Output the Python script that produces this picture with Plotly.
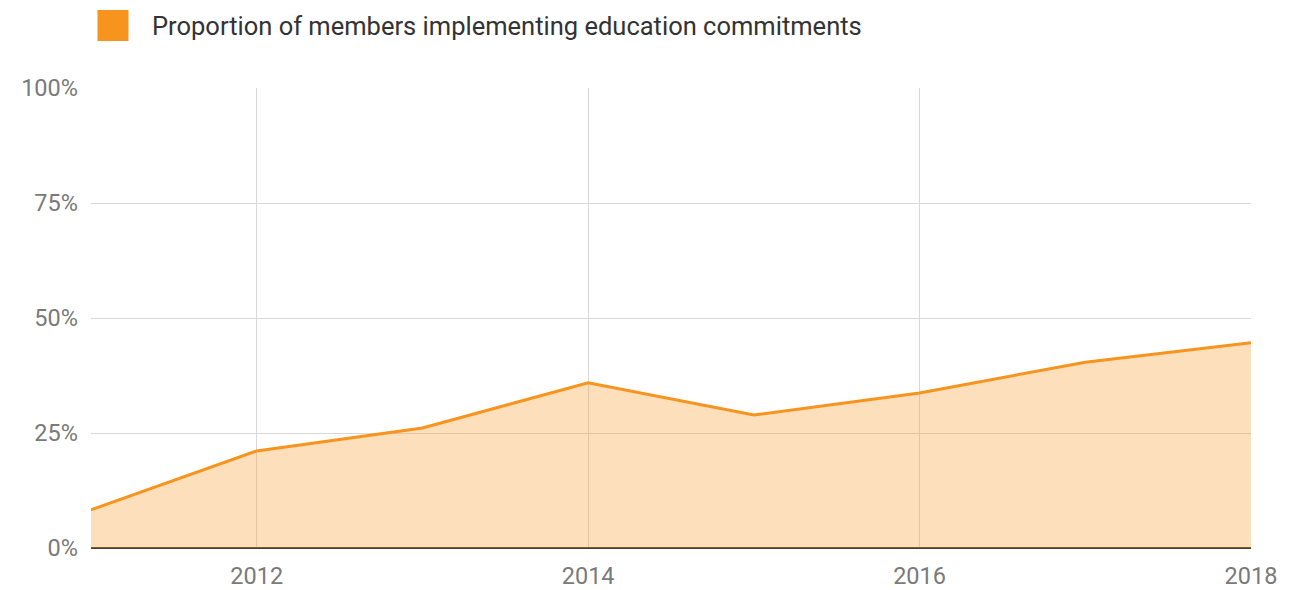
import plotly.graph_objects as go

years = [2011, 2012, 2013, 2014, 2015, 2016, 2017, 2018]
proportion = [8.3, 21.1, 26.1, 35.9, 28.9, 33.7, 40.4, 44.6]
series_name = "Proportion of members implementing education commitments"
y_ticks = [0, 25, 50, 75, 100]
y_tick_labels = ["0%", "25%", "50%", "75%", "100%"]
x_ticks = [2012, 2014, 2016, 2018]

ORANGE = "#F7941E"

fig = go.Figure()
fig.add_trace(go.Scatter(
    x=years, y=proportion, mode="lines", name=series_name,
    line=dict(color=ORANGE, width=3),
    fill="tozeroy", fillcolor="rgba(247,148,30,0.3)",
    showlegend=False,
))

W, H = 1293, 590
L, R, T, B = 90.5, 42, 88, 42
pw = W - L - R
ph = H - T - B

# custom legend (square + text) in paper coordinates
sq_x0, sq_x1 = (97 - L) / pw, (128 - L) / pw
sq_y0, sq_y1 = (H - B - 41) / ph, (H - B - 10) / ph
fig.add_shape(type="rect", xref="paper", yref="paper",
              x0=sq_x0, x1=sq_x1, y0=sq_y0, y1=sq_y1,
              fillcolor=ORANGE, line=dict(width=0))
fig.add_annotation(xref="paper", yref="paper", x=(150 - L) / pw, y=(H - B - 26) / ph,
                   text=series_name, showarrow=False, xanchor="left", yanchor="middle",
                   font=dict(family="Roboto", size=25.5, color="#333333"))

fig.update_layout(
    width=W, height=H,
    margin=dict(l=L, r=R, t=T, b=B, autoexpand=False),
    plot_bgcolor="white", paper_bgcolor="white",
    font=dict(family="Roboto", size=23.5, color="#7a7a7a"),
    xaxis=dict(range=[2011, 2018], tickvals=x_ticks, showgrid=True,
               gridcolor="#D8D8D8", gridwidth=1, zeroline=False,
               showline=False, ticks="", ticklabelstandoff=11, automargin=False),
    yaxis=dict(range=[0, 100], tickvals=y_ticks, ticktext=y_tick_labels, showgrid=True,
               gridcolor="#D8D8D8", gridwidth=1, zeroline=True,
               zerolinecolor="#4a4036", zerolinewidth=2, showline=False,
               ticks="", ticklabelstandoff=12, automargin=False),
)

fig.write_html("out.html")
